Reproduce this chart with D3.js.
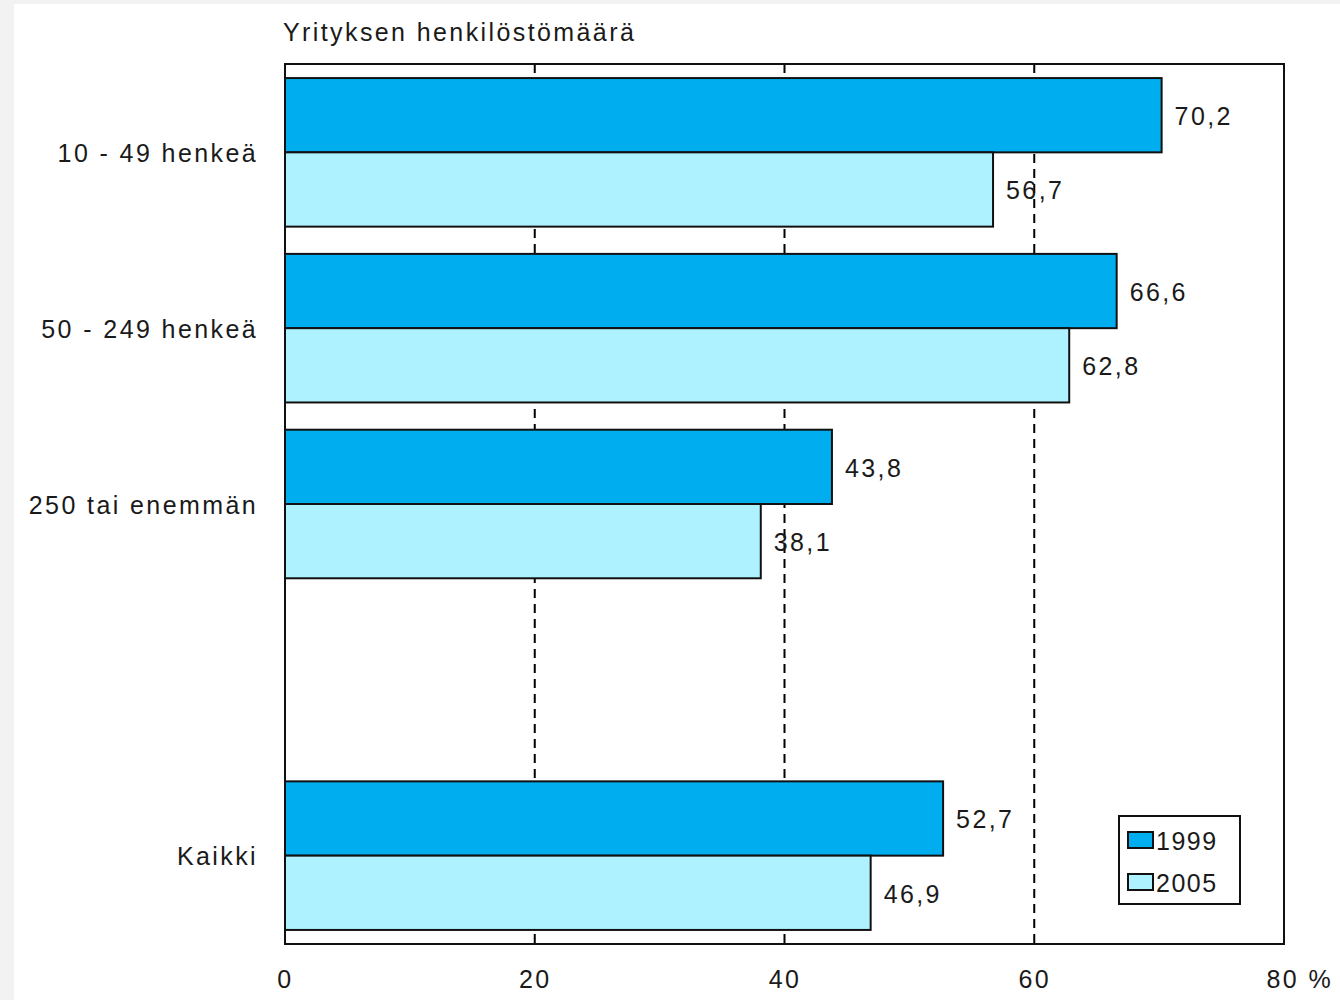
<!DOCTYPE html>
<html><head><meta charset="utf-8">
<script src="https://cdn.jsdelivr.net/npm/d3@7"></script>
<style>
html,body{margin:0;padding:0;background:#f2f2f2;}
svg{display:block;}
text{font-family:"Liberation Sans",Arial,sans-serif;fill:#1a1a1a;}
</style></head>
<body><svg id="c" width="1340" height="1000"></svg>
<script>
const categories = ["10 - 49 henkeä", "50 - 249 henkeä", "250 tai enemmän", "", "Kaikki"];
const seriesNames = ["1999", "2005"];
const values1999 = [70.2, 66.6, 43.8, null, 52.7];
const values2005 = [56.7, 62.8, 38.1, null, 46.9];
const xTicks = [0, 20, 40, 60, 80];
const title = "Yrityksen henkilöstömäärä";
const colors = ["#00aeef", "#aef2ff"];

const svg = d3.select("#c");
svg.append("rect").attr("x",14).attr("y",4).attr("width",1326).attr("height",996).attr("fill","#fff");

const L=285, R=1284, T=64, B=944;
const x = d3.scaleLinear().domain([0,80]).range([L,R]);
const y = d3.scaleBand().domain(categories.map((c,i)=>i)).range([T,B]).paddingInner(0.155).paddingOuter(0.08);
const ys = d3.scaleBand().domain(seriesNames).range([0,y.bandwidth()]);
const fs = 25, ls = 2.4;

// gridlines
svg.append("g").selectAll("line").data(xTicks.slice(1,-1)).join("line")
  .attr("x1",d=>x(d)).attr("x2",d=>x(d)).attr("y1",T).attr("y2",B)
  .attr("stroke","#000").attr("stroke-width",2).attr("stroke-dasharray","9,6");

// bars
const rows = [];
categories.forEach((c,i)=>{
  if(values1999[i]!=null) rows.push({i, s:"1999", v:values1999[i], col:colors[0]});
  if(values2005[i]!=null) rows.push({i, s:"2005", v:values2005[i], col:colors[1]});
});
const g = svg.append("g");
g.selectAll("rect").data(rows).join("rect")
  .attr("x",x(0)).attr("y",d=>y(d.i)+ys(d.s)).attr("width",d=>x(d.v)-x(0)).attr("height",ys.bandwidth())
  .attr("fill",d=>d.col).attr("stroke","#111").attr("stroke-width",2);
g.selectAll("text").data(rows).join("text")
  .attr("x",d=>x(d.v)+13).attr("y",d=>y(d.i)+ys(d.s)+ys.bandwidth()/2+1)
  .attr("dy","0.35em").attr("font-size",fs).attr("letter-spacing",ls)
  .text(d=>d3.format(".1f")(d.v).replace(".",","));

// frame
svg.append("rect").attr("x",L).attr("y",T).attr("width",R-L).attr("height",B-T)
  .attr("fill","none").attr("stroke","#111").attr("stroke-width",2);

// category labels
svg.append("g").selectAll("text").data(categories.map((c,i)=>({c,i})).filter(d=>d.c)).join("text")
  .attr("x",258).attr("y",d=>y(d.i)+y.bandwidth()/2+1).attr("dy","0.35em")
  .attr("text-anchor","end").attr("font-size",fs).attr("letter-spacing",ls).text(d=>d.c);

// x axis
const ax = svg.append("g").attr("transform",`translate(0,${B})`)
  .call(d3.axisBottom(x).tickValues(xTicks).tickSize(0).tickPadding(26)
    .tickFormat(d=> d===80 ? "80 %" : String(d)));
ax.select(".domain").remove();
ax.selectAll("text").attr("font-size",fs).attr("letter-spacing",ls)
  .style("font-family",'"Liberation Sans",Arial,sans-serif').attr("fill","#1a1a1a");
ax.selectAll(".tick").filter(d=>d===80).select("text").attr("text-anchor","start").attr("dx",-18);

// title
svg.append("text").attr("x",283).attr("y",32).attr("dy","0.35em")
  .attr("font-size",fs).attr("letter-spacing",ls).text(title);

// legend
const lg = svg.append("g");
lg.append("rect").attr("x",1119).attr("y",816).attr("width",121).attr("height",88)
  .attr("fill","#fff").attr("stroke","#111").attr("stroke-width",2);
seriesNames.forEach((s,k)=>{
  const cy = 840 + k*42;
  lg.append("rect").attr("x",1128).attr("y",cy-8).attr("width",25).attr("height",16)
    .attr("fill",colors[k]).attr("stroke","#111").attr("stroke-width",2);
  lg.append("text").attr("x",1156).attr("y",cy+1).attr("dy","0.35em")
    .attr("font-size",fs).attr("letter-spacing",1.5).text(s);
});
</script></body></html>
